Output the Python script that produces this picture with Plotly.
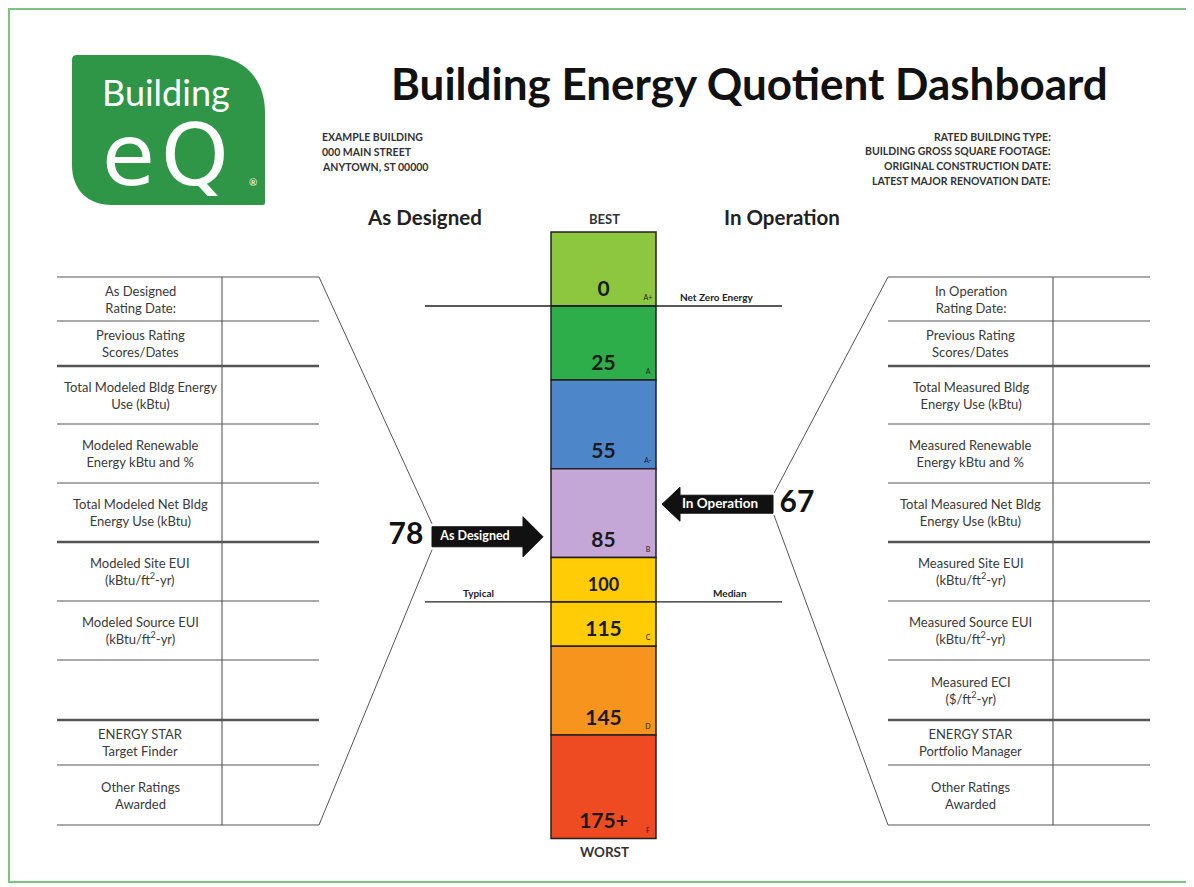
import plotly.graph_objects as go

# Echelle bEQ (valeurs de score)
score_bounds = [-25, 0, 25, 55, 85, 100, 115, 145, 180]
score_labels = ["0", "25", "55", "85", "100", "115", "145", "175+"]
grade_labels = ["A+", "A", "A-", "B", "", "C", "D", "F"]
band_colors = ["#8DC63F", "#2EAE4A", "#4D86C9", "#C4A7D6", "#FFCC05",
               "#FFCC05", "#F7941E", "#EF4B23"]

as_designed_score = 78
in_operation_score = 67

header_left = ["EXAMPLE BUILDING", "000 MAIN STREET", "ANYTOWN, ST 00000"]
header_right = ["RATED BUILDING TYPE:", "BUILDING GROSS SQUARE FOOTAGE:",
                "ORIGINAL CONSTRUCTION DATE:", "LATEST MAJOR RENOVATION DATE:"]

left_rows = [
    "As Designed<br>Rating Date:",
    "Previous Rating<br>Scores/Dates",
    "Total Modeled Bldg Energy<br>Use (kBtu)",
    "Modeled Renewable<br>Energy kBtu and %",
    "Total Modeled Net Bldg<br>Energy Use (kBtu)",
    "Modeled Site EUI<br>(kBtu/ft<sup>2</sup>-yr)",
    "Modeled Source EUI<br>(kBtu/ft<sup>2</sup>-yr)",
    "",
    "ENERGY STAR<br>Target Finder",
    "Other Ratings<br>Awarded",
]
right_rows = [
    "In Operation<br>Rating Date:",
    "Previous Rating<br>Scores/Dates",
    "Total Measured Bldg<br>Energy Use (kBtu)",
    "Measured Renewable<br>Energy kBtu and %",
    "Total Measured Net Bldg<br>Energy Use (kBtu)",
    "Measured Site EUI<br>(kBtu/ft<sup>2</sup>-yr)",
    "Measured Source EUI<br>(kBtu/ft<sup>2</sup>-yr)",
    "Measured ECI<br>($/ft<sup>2</sup>-yr)",
    "ENERGY STAR<br>Portfolio Manager",
    "Other Ratings<br>Awarded",
]

# --- mise en page (pixels de la fenetre; la page a une marge de 8 px) ---
X0, X1 = 8, 1194
Y0, Y1 = 8, 887
PX0 = 306            # pixel du score 0
PX_PER = 429 / 145   # pixels par point de score
row_edges = [277, 321, 366, 424, 483, 542, 601, 660, 720, 765, 825]
thick_edges = [366, 542, 720]
label_sizes = [21, 21, 21, 21, 18, 21, 21, 21]
FONT = "Lato"
TXT = "#3a3a3a"


def to_px(s):
    return PX0 + s * PX_PER


fig = go.Figure()

# Barre de l'echelle
lows = score_bounds[:-1]
highs = score_bounds[1:]
fig.add_trace(go.Bar(
    x=[603.5] * len(lows), base=lows, y=[h - l for l, h in zip(lows, highs)],
    width=105, marker=dict(color=band_colors, line=dict(color="#222", width=1.5)),
    yaxis="y2", hoverinfo="skip", showlegend=False,
))
fig.add_trace(go.Scatter(
    x=[603.5] * len(highs), y=[h - 5.3 for h in highs], mode="text",
    text=score_labels,
    textfont=dict(family=FONT, size=label_sizes, color="#1a1a1a", weight="bold"),
    yaxis="y2", hoverinfo="skip", showlegend=False,
))
g_hi = [h for h, g in zip(highs, grade_labels) if g]
g_txt = [g for g in grade_labels if g]
fig.add_trace(go.Scatter(
    x=[648] * len(g_hi), y=[h - 2.6 for h in g_hi], mode="text",
    text=g_txt, textfont=dict(family=FONT, size=7, color="#222"),
    yaxis="y2", hoverinfo="skip", showlegend=False,
))


def block_arrow(tail_x, head_x, tip_x, score, body_h, head_h):
    xs = [tail_x, head_x, head_x, tip_x, head_x, head_x, tail_x, tail_x]
    offs = [-body_h, -body_h, -head_h, 0, head_h, body_h, body_h, -body_h]
    ys = [score + o / PX_PER for o in offs]
    return xs, ys


for tail, head, tip, sc, bh, hh in [(432, 523, 543, as_designed_score, 10, 20),
                                    (773, 680, 662, in_operation_score, 9, 17)]:
    ax, ay = block_arrow(tail, head, tip, sc, bh, hh)
    fig.add_trace(go.Scatter(
        x=ax, y=ay, fill="toself", fillcolor="#111", mode="lines",
        line=dict(color="#111", width=1), yaxis="y2", hoverinfo="skip", showlegend=False,
    ))

fig.add_trace(go.Scatter(
    x=[475, 720], y=[as_designed_score, in_operation_score], mode="text",
    text=["As Designed", "In Operation"],
    textfont=dict(family=FONT, size=[12.5, 13.5], color="white", weight="bold"),
    yaxis="y2", hoverinfo="skip", showlegend=False,
))
fig.add_trace(go.Scatter(
    x=[406, 797], y=[as_designed_score, in_operation_score], mode="text",
    text=[str(as_designed_score), str(in_operation_score)],
    textfont=dict(family=FONT, size=30, color="#111", weight="bold"),
    yaxis="y2", hoverinfo="skip", showlegend=False,
))

shapes = []
# cadre vert
shapes.append(dict(type="rect", x0=9, x1=1191, y0=9, y1=882, xref="x", yref="y",
                   line=dict(color="#7CC47F", width=2)))
# logo
shapes.append(dict(type="path", xref="x", yref="y",
                   path="M 72,60 Q 72,55 77,55 L 205,55 C 240,55 265,75 265,113 "
                        "L 265,203 Q 265,205 263,205 L 112,205 C 88,205 72,190 72,165 Z",
                   fillcolor="#2E9646", line=dict(width=0)))
# lignes Net Zero / Median
for s in (0, 100):
    shapes.append(dict(type="line", x0=425, x1=782, y0=s, y1=s, xref="x", yref="y2",
                       line=dict(color="#222", width=1.3)))

# tableaux
for x0, x1, xd in [(57, 319, 222), (888, 1150, 1053)]:
    for e in row_edges:
        w = 2.6 if e in thick_edges else 1.1
        shapes.append(dict(type="line", x0=x0, x1=x1, y0=e, y1=e, xref="x", yref="y",
                           line=dict(color="#555", width=w)))
    shapes.append(dict(type="line", x0=xd, x1=xd, y0=row_edges[0], y1=row_edges[-1],
                       xref="x", yref="y", line=dict(color="#555", width=1.1)))

# diagonales vers les fleches
yd = to_px(as_designed_score)
yo = to_px(in_operation_score)
for (xa, ya, xb, yb) in [(319, 277, 432, yd - 13), (432, yd + 13, 319, 825),
                         (888, 277, 774, yo - 11), (774, yo + 11, 888, 825)]:
    shapes.append(dict(type="line", x0=xa, y0=ya, x1=xb, y1=yb, xref="x", yref="y",
                       line=dict(color="#555", width=1)))

ann = []


def add_text(x, y, text, size, color=TXT, bold=False, xanchor="center", yref="y",
             family=FONT):
    ann.append(dict(x=x, y=y, xref="x", yref=yref, text=text, showarrow=False,
                    xanchor=xanchor, yanchor="middle",
                    align=xanchor if xanchor != "center" else "center",
                    font=dict(family=family, size=size, color=color,
                              weight="bold" if bold else "normal")))


add_text(749, 83, "Building Energy Quotient Dashboard", 44, "#111", True)
add_text(166, 92, "Building", 36, "white")
add_text(128, 155, "e", 86, "white", family="DejaVu Sans")
add_text(195, 155, "Q", 86, "white", family="DejaVu Sans")
add_text(253, 182, "®", 10, "white")

for i, t in enumerate(header_left):
    add_text(320, 137 + i * 14.8, t, 10.5, "#333", True, xanchor="left")
for i, t in enumerate(header_right):
    add_text(1053, 136.5 + i * 14.9, t, 10.5, "#333", True, xanchor="right")

add_text(424, 217, "As Designed", 20.5, "#222", True)
add_text(782, 217, "In Operation", 20.5, "#222", True)
add_text(604, 219, "BEST", 13, "#333", True)
add_text(604, 852, "WORST", 13.5, "#333", True)

add_text(717, -3, "Net Zero Energy", 10, "#222", True, yref="y2")
add_text(478, 97, "Typical", 10, "#222", True, yref="y2")
add_text(730, 97, "Median", 10, "#222", True, yref="y2")

for rows, xc in [(left_rows, 140), (right_rows, 970.5)]:
    for i, t in enumerate(rows):
        if t:
            add_text(xc, (row_edges[i] + row_edges[i + 1]) / 2, t, 13, TXT)

fig.update_layout(
    width=X1 - X0, height=Y1 - Y0, margin=dict(l=0, r=0, t=0, b=0),
    paper_bgcolor="white", plot_bgcolor="white",
    barmode="overlay", showlegend=False,
    xaxis=dict(range=[X0, X1], visible=False, fixedrange=True),
    yaxis=dict(range=[Y1, Y0], visible=False, fixedrange=True),
    yaxis2=dict(range=[(Y1 - PX0) / PX_PER, (Y0 - PX0) / PX_PER], overlaying="y",
                visible=False, fixedrange=True),
    shapes=shapes, annotations=ann,
)

fig.write_html("out.html")
